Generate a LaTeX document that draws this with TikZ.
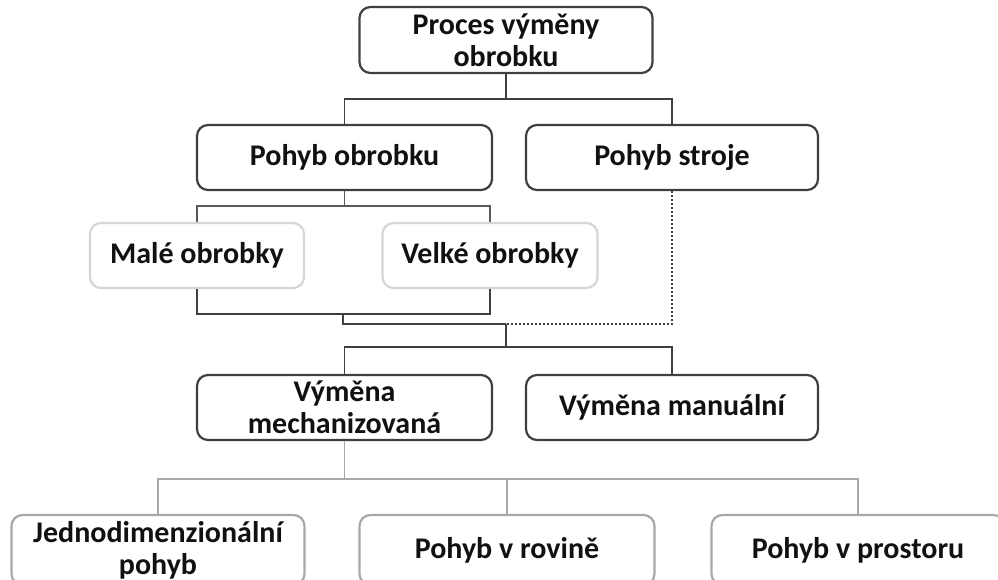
\documentclass[tikz,border=0pt]{standalone}
\usepackage{fontspec}
\setmainfont{Carlito}
\definecolor{darkline}{HTML}{404040}
\definecolor{midline}{HTML}{5A5A5A}
\definecolor{lightbox}{HTML}{D6D6D6}
\definecolor{greybox}{HTML}{A8A8A8}
\definecolor{txt}{HTML}{111111}
\tikzset{
  box/.style={draw, rectangle, rounded corners=11pt, line width=2.2pt, fill=white,
    align=center, text=txt, font=\bfseries\fontsize{30}{32}\selectfont,
    minimum height=65pt, inner sep=0pt},
  darkbox/.style={box, draw=darkline},
  lightnode/.style={box, draw=lightbox},
  greynode/.style={box, draw=greybox},
  link/.style={line width=1.8pt, draw=darkline},
  midlink/.style={line width=1.8pt, draw=midline},
  greylink/.style={line width=1.8pt, draw=greybox},
  dotlink/.style={line width=2pt, draw=darkline, dotted},
}
\begin{document}
\begin{tikzpicture}[x=1pt, y=-1pt]
  \clip (0,0) rectangle (998,580);
  \fill[white] (0,0) rectangle (998,580);

  % first two levels
  \node[darkbox, minimum width=293pt, minimum height=66pt] (top) at (506,40) {Proces výměny\\obrobku};
  \node[darkbox, minimum width=295pt] (po) at (344.5,157.5) {Pohyb obrobku};
  \node[darkbox, minimum width=292pt] (ps) at (672,157.5) {Pohyb stroje};

  % workpiece size
  \node[lightnode, minimum width=214pt] (male) at (197,255.5) {Malé obrobky};
  \node[lightnode, minimum width=215pt] (velke) at (490,255.5) {Velké obrobky};

  % kind of exchange
  \node[darkbox, minimum width=295pt] (vm) at (344.5,407.5) {Výměna\\mechanizovaná};
  \node[darkbox, minimum width=292pt] (vr) at (672,407.5) {Výměna manuální};

  % kinds of motion
  \node[greynode, minimum width=293pt, minimum height=70pt] (p1) at (158,550) {Jednodimenzionální\\pohyb};
  \node[greynode, minimum width=295pt, minimum height=70pt] (p2) at (507,550) {Pohyb v rovině};
  \node[greynode, minimum width=293pt, minimum height=70pt] (p3) at (858,550) {Pohyb v prostoru};

  % junction points
  \coordinate (j1) at (343,324);
  \coordinate (j2) at (506,324);
  \coordinate (j3) at (506,347);

  % connectors
  \draw[link] (top.south) -- ++(0,25) -| (po.north);
  \draw[link] (top.south) -- ++(0,25) -| (ps.north);

  \draw[midlink] (po.south) -- ++(0,15) -| (male.north);
  \draw[midlink] (po.south) -- ++(0,15) -| (velke.north);

  \draw[link] (male.south) -- ++(0,25) -| (velke.south);
  \draw[link] (343,313) -- (j1) -- (j2);
  \draw[dotlink] (ps.south) |- (j2);
  \draw[link] (j2) -- (j3);
  \draw[link] (j3) -| (vm.north);
  \draw[link] (j3) -| (vr.north);

  \draw[greylink] (vm.south) -- ++(0,38) -| (p1.north);
  \draw[greylink] (vm.south) -- ++(0,38) -| (p2.north);
  \draw[greylink] (vm.south) -- ++(0,38) -| (p3.north);
\end{tikzpicture}
\end{document}
